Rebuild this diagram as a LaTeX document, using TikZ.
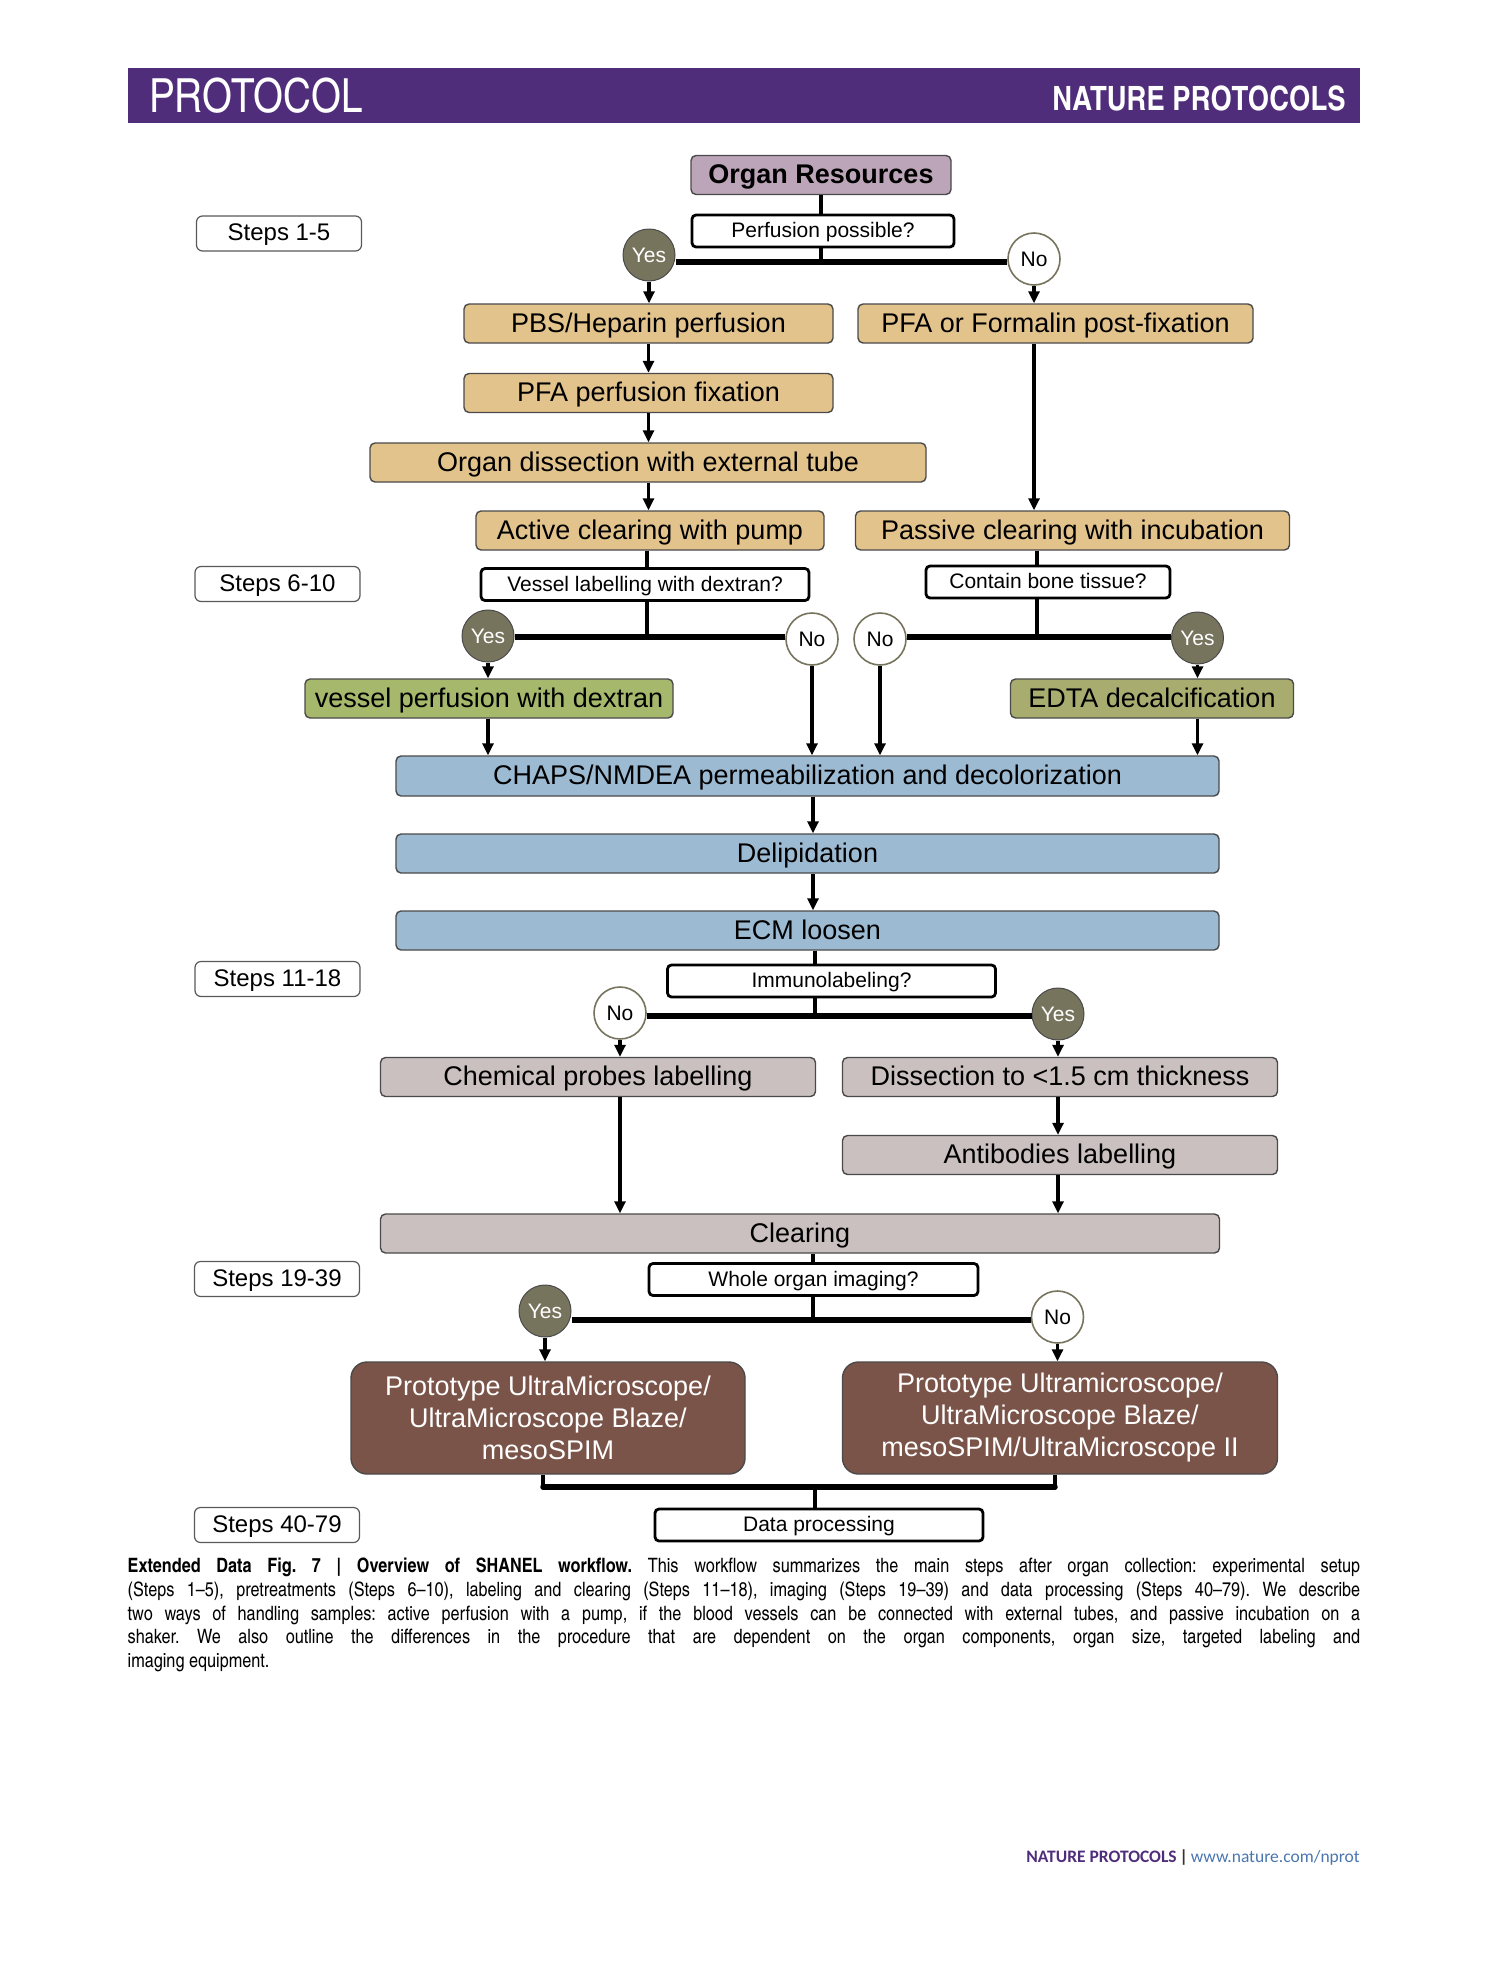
\documentclass[tikz,border=0pt]{standalone}
\usepackage{fontspec}
\setmainfont{Liberation Sans}
\newfontfamily\capfont{Carlito}
\newfontfamily\hdrfont{texgyreheroscn}[Extension=.otf,UprightFont=*-regular,BoldFont=*-bold]
\usetikzlibrary{arrows.meta}
\definecolor{hdrpurple}{HTML}{502D7A}
\definecolor{orgc}{HTML}{BCA5B8}
\definecolor{tanc}{HTML}{E3C38C}
\definecolor{greenl}{HTML}{A6B86B}
\definecolor{greenr}{HTML}{A8AD6F}
\definecolor{bluec}{HTML}{9DBAD3}
\definecolor{grayc}{HTML}{CAC0BF}
\definecolor{brownc}{HTML}{7B5449}
\definecolor{yesc}{HTML}{77745E}
\definecolor{boxline}{HTML}{4A4A4A}
\definecolor{footblue}{HTML}{4A76B0}
\begin{document}
\begin{tikzpicture}[x=1pt,y=-1pt,
  box/.style={draw=boxline, line width=1.4pt, rounded corners=5pt, inner sep=0pt, minimum height=39pt, text depth=0.22em, font=\fontsize{27}{32}\selectfont},
  tanbox/.style={box, fill=tanc},
  bluebox/.style={box, fill=bluec, minimum width=823pt, minimum height=40pt},
  graybox/.style={box, fill=grayc},
  question/.style={draw=black, line width=2.8pt, rounded corners=4pt, fill=white, inner sep=0pt, minimum height=32pt, text depth=0.22em, font=\fontsize{21}{25}\selectfont},
  stepsbox/.style={draw=gray!70!black, line width=1.2pt, rounded corners=6pt, fill=white, inner sep=0pt, minimum width=165pt, minimum height=35pt, text depth=0.22em, font=\fontsize{24}{28}\selectfont},
  yesnode/.style={circle, draw=boxline, line width=1pt, fill=yesc, text=white, minimum size=52pt, inner sep=0pt, font=\fontsize{21}{24}\selectfont},
  nonode/.style={circle, draw=yesc, line width=1.6pt, fill=white, text=black, minimum size=52pt, inner sep=0pt, font=\fontsize{21}{24}\selectfont},
  micro/.style={draw=boxline, line width=1.4pt, rounded corners=16pt, fill=brownc, text=white, align=center, inner sep=0pt, minimum height=112pt, font=\fontsize{27}{32}\selectfont},
  conn/.style={line width=3.2pt, black},
  arr/.style={conn, -{Triangle[length=12pt,width=11pt]}},
  barline/.style={line width=5.5pt, black}
]
\useasboundingbox (0,0) rectangle (1489,1978);
% header
\fill[hdrpurple] (127.5,68) rectangle (1360,122.5);
\node[anchor=base west, inner sep=0pt, text=white, font=\hdrfont\fontsize{47}{50}\selectfont] (hdrl) at (149,112) {PROTOCOL};
\node[anchor=base east, inner sep=0pt, text=white, font=\hdrfont\bfseries\fontsize{33.5}{36}\selectfont] (hdrr) at (1346,110) {NATURE PROTOCOLS};

% steps labels
\node[stepsbox] (s1) at (279,233.5) {Steps 1-5};
\node[stepsbox] (s2) at (277.5,584) {Steps 6-10};
\node[stepsbox] (s3) at (277.5,979) {Steps 11-18};
\node[stepsbox] (s4) at (277,1279) {Steps 19-39};
\node[stepsbox] (s5) at (277,1525) {Steps 40-79};

% group 1
\node[box, fill=orgc, minimum width=260pt, font=\bfseries\fontsize{27}{32}\selectfont] (org) at (821,175) {Organ Resources};
\node[question, minimum width=262pt] (perf) at (823,231) {Perfusion possible?};
\node[yesnode] (yes1) at (649,255) {Yes};
\node[nonode] (no1) at (1034,259) {No};
\coordinate (b1) at (821,262);
\node[tanbox, minimum width=369pt] (pbs) at (648.5,323.5) {PBS/Heparin perfusion};
\node[tanbox, minimum width=395pt] (pfa) at (1055.5,323.5) {PFA or Formalin post-fixation};
\node[tanbox, minimum width=369pt] (pfafix) at (648.5,393) {PFA perfusion fixation};
\node[tanbox, minimum width=556pt] (dissect) at (648,462.5) {Organ dissection with external tube};
\node[tanbox, minimum width=348pt] (active) at (650,530.5) {Active clearing with pump};
\node[tanbox, minimum width=434pt] (passive) at (1072.5,530.5) {Passive clearing with incubation};

\draw[conn] (org.south -| b1) -- (perf.north -| b1);
\draw[conn] (perf.south -| b1) -- (b1);
\draw[barline] (yes1.east |- b1) -- (no1.west |- b1);
\draw[arr] (yes1.south) -- (yes1.south |- pbs.north);
\draw[arr] (no1.south) -- (no1.south |- pfa.north);
\draw[arr] (pbs.south) -- (pfafix.north);
\draw[arr] (pfafix.south) -- (pfafix.south |- dissect.north);
\draw[arr] (dissect.south -| pbs.south) -- (active.north -| pbs.south);
\draw[arr] (pfa.south -| no1.south) -- (passive.north -| no1.south);

% group 2
\node[question, minimum width=328pt] (vessel) at (645,584.5) {Vessel labelling with dextran?};
\node[question, minimum width=244pt] (bone) at (1048,582) {Contain bone tissue?};
\coordinate (t2l) at (647,637);
\coordinate (t2r) at (1037,637);
\node[yesnode] (yes2) at (488,636) {Yes};
\node[nonode] (no2) at (812,639) {No};
\node[nonode] (no3) at (880,639) {No};
\node[yesnode] (yes3) at (1197.5,638) {Yes};
\node[box, fill=greenl, minimum width=368pt] (vpd) at (489,698.5) {vessel perfusion with dextran};
\node[box, fill=greenr, minimum width=283pt] (edta) at (1152,698.5) {EDTA decalcification};
\node[bluebox] (chaps) at (807.5,776) {CHAPS/NMDEA permeabilization and decolorization};
\node[bluebox, minimum height=39pt] (delip) at (807.5,853.5) {Delipidation};
\node[bluebox, minimum height=39pt] (ecm) at (807.5,930.5) {ECM loosen};

\draw[conn] (active.south -| t2l) -- (vessel.north -| t2l);
\draw[conn] (vessel.south -| t2l) -- (t2l);
\draw[conn] (passive.south -| t2r) -- (bone.north -| t2r);
\draw[conn] (bone.south -| t2r) -- (t2r);
\draw[barline] (yes2.east |- t2l) -- (no2.west |- t2l);
\draw[barline] (no3.east |- t2r) -- (yes3.west |- t2r);
\draw[arr] (yes2.south) -- (yes2.south |- vpd.north);
\draw[arr] (vpd.south -| yes2.south) -- (chaps.north -| yes2.south);
\draw[arr] (no2.south) -- (no2.south |- chaps.north);
\draw[arr] (no3.south) -- (no3.south |- chaps.north);
\draw[arr] (yes3.south) -- (yes3.south |- edta.north);
\draw[arr] (edta.south -| yes3.south) -- (chaps.north -| yes3.south);
\coordinate (t3) at (813,0);
\draw[arr] (chaps.south -| t3) -- (delip.north -| t3);
\draw[arr] (delip.south -| t3) -- (ecm.north -| t3);

% group 3
\node[question, minimum width=328pt] (immuno) at (831.5,981) {Immunolabeling?};
\coordinate (b3) at (815,1016);
\node[nonode] (no4) at (620,1013) {No};
\node[yesnode] (yes4) at (1058,1014) {Yes};
\node[graybox, minimum width=435pt] (chem) at (598,1077) {Chemical probes labelling};
\node[graybox, minimum width=435pt] (dis15) at (1060,1077) {Dissection to <1.5 cm thickness};
\node[graybox, minimum width=435pt] (anti) at (1060,1155) {Antibodies labelling};
\node[graybox, minimum width=839pt] (clear) at (800,1233.5) {Clearing};

\draw[conn] (ecm.south -| b3) -- (immuno.north -| b3);
\draw[conn] (immuno.south -| b3) -- (b3);
\draw[barline] (no4.east |- b3) -- (yes4.west |- b3);
\draw[arr] (no4.south) -- (no4.south |- chem.north);
\draw[arr] (yes4.south) -- (yes4.south |- dis15.north);
\draw[arr] (chem.south -| no4.south) -- (clear.north -| no4.south);
\draw[arr] (dis15.south -| yes4.south) -- (anti.north -| yes4.south);
\draw[arr] (anti.south -| yes4.south) -- (clear.north -| yes4.south);

% group 4
\node[question, minimum width=329pt] (whole) at (813.5,1279.5) {Whole organ imaging?};
\coordinate (b4) at (813,1320);
\node[yesnode] (yes5) at (545,1311) {Yes};
\node[nonode] (no5) at (1057.5,1317) {No};
\node[micro, minimum width=394pt] (micro1) at (548,1418) {Prototype UltraMicroscope/\\UltraMicroscope Blaze/\\mesoSPIM};
\node[micro, minimum width=435pt] (micro2) at (1060,1418) {Prototype Ultramicroscope/\\UltraMicroscope Blaze/\\mesoSPIM/UltraMicroscope II};

\draw[conn] (clear.south -| b4) -- (whole.north -| b4);
\draw[conn] (whole.south -| b4) -- (b4);
\draw[barline] (yes5.east |- b4) -- (no5.west |- b4);
\draw[arr] (yes5.south) -- (yes5.south |- micro1.north);
\draw[arr] (no5.south) -- (no5.south |- micro2.north);

% merge
\coordinate (m1) at (543,1487);
\coordinate (m2) at (1055,1487);
\coordinate (m3) at (815,1487);
\node[question, minimum width=328pt] (data) at (819,1525) {Data processing};
\draw[conn] (micro1.south -| m1) -- (m1);
\draw[conn] (micro2.south -| m2) -- (m2);
\draw[barline, line cap=round] (m1) -- (m2);
\draw[conn] (m3) -- (data.north -| m3);

% caption
\node[anchor=north west, inner sep=0pt, text width=1232.5pt, align=justify, font=\hdrfont\frenchspacing\fontsize{19.8}{23.6}\selectfont] (cap) at (127.5,1558)
{\textbf{Extended Data Fig. 7 | Overview of SHANEL workflow.} This workflow summarizes the main steps after organ collection: experimental setup\linebreak
(Steps 1–5), pretreatments (Steps 6–10), labeling and clearing (Steps 11–18), imaging (Steps 19–39) and data processing (Steps 40–79). We describe\linebreak
two ways of handling samples: active perfusion with a pump, if the blood vessels can be connected with external tubes, and passive incubation on a\linebreak
shaker. We also outline the differences in the procedure that are dependent on the organ components, organ size, targeted labeling and\linebreak
imaging equipment.};

% footer
\node[anchor=base east, inner sep=0pt, font=\capfont\fontsize{17.5}{20}\selectfont] (foot) at (1360,1862)
{\textcolor{hdrpurple}{\bfseries NATURE PROTOCOLS}\,\textcolor{black!80}{\bfseries|}\,\textcolor{footblue}{www.nature.com/nprot}};
\end{tikzpicture}
\end{document}
